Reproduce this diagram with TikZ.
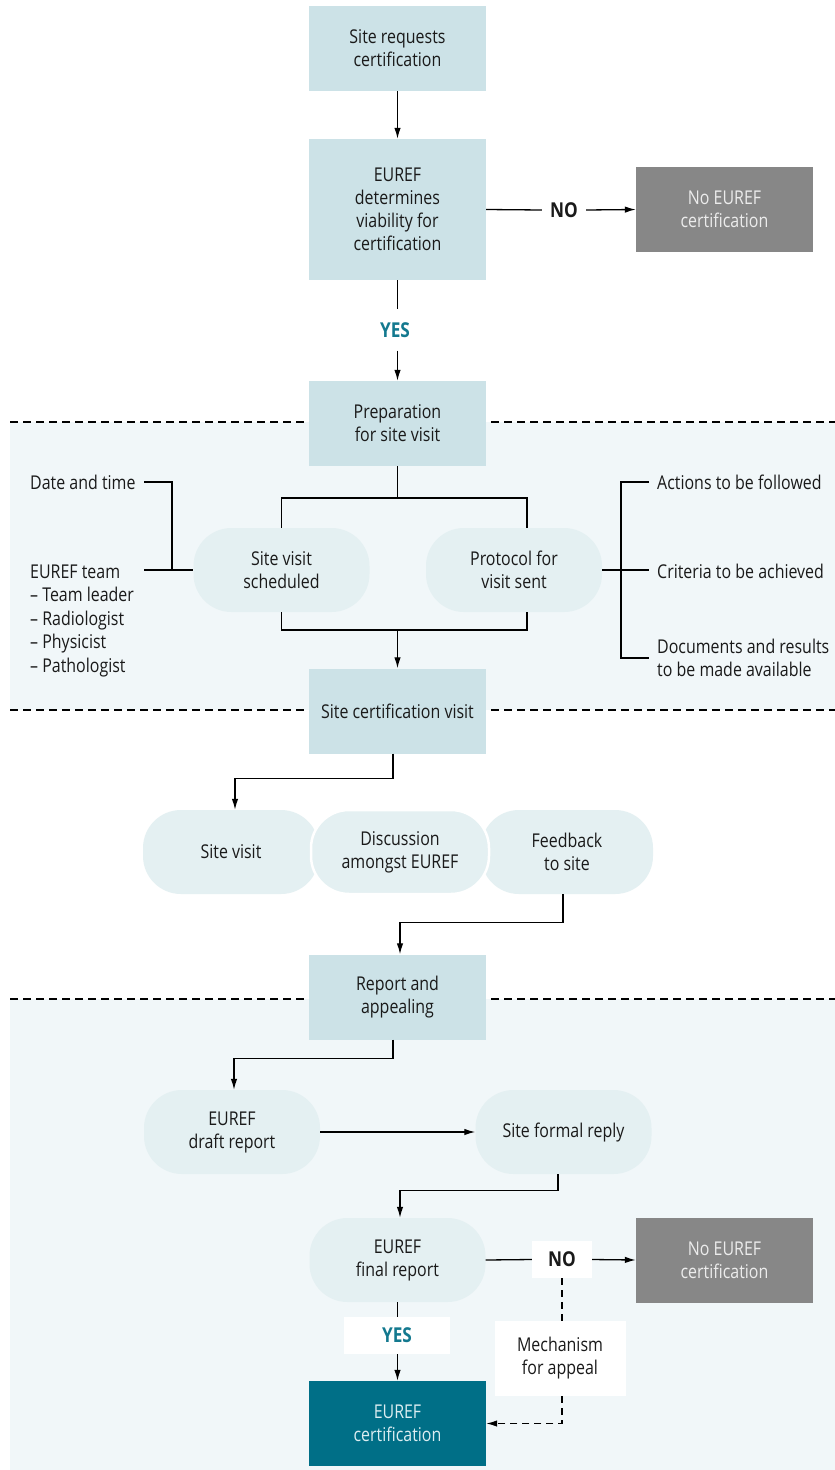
\documentclass[tikz,border=0pt]{standalone}
\usepackage{fontspec}
\setmainfont[FakeStretch=0.84]{Open Sans}
\usetikzlibrary{arrows.meta}
\definecolor{boxblue}{HTML}{CCE2E7}
\definecolor{pillblue}{HTML}{E4F0F2}
\definecolor{bgblue}{HTML}{F1F7F9}
\definecolor{nogray}{HTML}{878787}
\definecolor{certteal}{HTML}{006F87}
\definecolor{yesteal}{HTML}{13798F}
\definecolor{txt}{HTML}{1A1A1A}
\definecolor{graytxt}{HTML}{ECECEC}
\definecolor{certtxt}{HTML}{DCEDF1}
\begin{document}
\begin{tikzpicture}[x=1pt,y=-1pt,
  font=\fontsize{19}{23}\selectfont,
  box/.style={rectangle, fill=boxblue, minimum width=177pt, minimum height=85pt, align=center, inner sep=0pt, text=txt},
  pill/.style={rectangle, rounded corners=38pt, fill=pillblue, minimum width=176pt, minimum height=84pt, align=center, inner sep=0pt, text=txt},
  graybox/.style={rectangle, fill=nogray, text=graytxt, minimum width=177pt, minimum height=85pt, align=center, inner sep=0pt},
  whitebox/.style={rectangle, fill=white, align=center, inner sep=0pt, text=txt},
  conn/.style={line width=1.3pt, draw=black},
  arr/.style={conn, -{Latex[length=11pt,width=6.5pt]}},
  dconn/.style={conn, dash pattern=on 7pt off 5pt},
  lbl/.style={font=\fontsize{20.5}{23}\selectfont\bfseries, text=txt},
  ltxt/.style={anchor=base west, inner sep=0pt, text=txt, align=left},
  sep/.style={line width=2pt, dash pattern=on 8pt off 5pt},
]
\useasboundingbox (0,0) rectangle (835,1470);
\fill[white] (0,0) rectangle (835,1470);
% shaded regions
\fill[bgblue] (10,422) rectangle (835,710);
\fill[bgblue] (10,999) rectangle (835,1470);
\draw[sep] (10,422) -- (835,422);
\draw[sep] (10,710) -- (835,710);
\draw[sep] (10,999) -- (835,999);

% top part
\node[box] (req) at (397.5,48.5) {Site requests\\certification};
\node[box, minimum height=141pt] (via) at (397.5,209.5) {EUREF\\determines\\viability for\\certification};
\node[graybox] (no1) at (724.5,209.5) {No EUREF\\certification};
\node[lbl, inner xsep=8pt] (nolbl1) at (564,210) {NO};
\node[lbl, text=yesteal, inner ysep=13pt] (yes1) at (395,330) {YES};
\node[box] (prep) at (397.5,423.5) {Preparation\\for site visit};

\draw[arr] (req) -- (via);
\draw[conn] (via.east) -- (nolbl1.west);
\draw[arr] (nolbl1.east) -- (no1.west);
\draw[conn] (via.south) -- (via.south |- yes1.north);
\draw[arr] (via.south |- yes1.south) -- (prep.north);

% preparation section
\node[pill] (sched) at (281.5,570) {Site visit\\scheduled};
\node[pill] (proto) at (514,570) {Protocol for\\visit sent};
\node[box] (scv) at (397.5,711) {Site certification visit};

\coordinate (sp) at (397.5,498);
\coordinate (jn) at (397.5,630);
\draw[conn] (prep.south) -- (sp);
\draw[conn] (sched.north) |- (sp) -| ([xshift=13pt]proto.north);
\draw[conn] (sched.south) |- (jn) -| ([xshift=13pt]proto.south);
\draw[arr] (jn) -- (scv.north);

% left texts
\node[ltxt] (date) at (30,489) {Date and time};
\node[ltxt] (team) at (30,578) {EUREF team};
\node[ltxt] (tl) at (30,601) {– Team leader};
\node[ltxt] (rad) at (30,625) {– Radiologist};
\node[ltxt] (phy) at (30,648) {– Physicist};
\node[ltxt] (path) at (30,672) {– Pathologist};
\coordinate (dL) at (144,482);
\coordinate (tL) at (144,570);
\draw[conn] (dL) -- (172,482) -- (172,570);
\draw[conn] (tL) -- (sched.west);

% right texts
\node[ltxt] (act) at (657,489) {Actions to be followed};
\node[ltxt] (crit) at (657,578) {Criteria to be achieved};
\node[ltxt] (docs) at (657,676) {Documents and results\\to be made available};
\coordinate (aR) at (649,482);
\coordinate (cR) at (649,570);
\coordinate (dR) at (649,658);
\draw[conn] (aR) -- (621,482) -- (621,658) -- (dR);
\draw[conn] (proto.east) -- (cR);

% visit row
\node[pill] (sv) at (231,852) {Site visit};
\node[pill, minimum width=172pt] (fb) at (567,852) {Feedback\\to site};
\node[pill, minimum width=178pt, draw=white, line width=2.5pt] (disc) at (400,852) {Discussion\\amongst EUREF};
\node[box] (rep) at (397.5,997) {Report and\\appealing};

\draw[arr] ([xshift=-4.5pt]scv.south) -- ++(0,25) -| ([xshift=4pt]sv.north);
\draw[arr] ([xshift=-4pt]fb.south) -- ++(0,28) -| ([xshift=2.5pt]rep.north);

% report section
\node[pill] (draft) at (232,1132) {EUREF\\draft report};
\node[pill] (reply) at (563.5,1132) {Site formal reply};
\node[pill] (final) at (397.5,1260) {EUREF\\final report};
\node[graybox] (no2) at (724.5,1260) {No EUREF\\certification};
\node[whitebox, lbl, minimum width=60pt, minimum height=37pt] (no2box) at (562,1259.5) {NO};
\node[whitebox, lbl, text=yesteal, minimum width=106pt, minimum height=37pt] (yes2) at (397,1335.5) {YES};
\node[whitebox, minimum width=131pt, minimum height=75pt] (mech) at (560,1358.5) {Mechanism\\for appeal};
\node[box, fill=certteal, text=certtxt] (cert) at (397.5,1423.5) {EUREF\\certification};

\draw[arr] ([xshift=-4.5pt]rep.south) -- ++(0,19) -| ([xshift=2pt]draft.north);
\draw[arr] (draft.east) -- (reply.west);
\draw[arr] ([xshift=-5.5pt]reply.south) -- ++(0,16) -| ([xshift=2.5pt]final.north);
\draw[conn] (final.east) -- (no2box.west);
\draw[arr] (no2box.east) -- (no2.west);
\draw[conn] (final.south) -- (final.south |- yes2.north);
\draw[arr] (final.south |- yes2.south) -- (cert.north);
\draw[dconn] (no2box.south) -- (no2box.south |- mech.north);
\draw[dconn, -{Latex[length=11pt,width=6.5pt]}] (no2box.south |- mech.south) |- (cert.east);
\end{tikzpicture}
\end{document}
